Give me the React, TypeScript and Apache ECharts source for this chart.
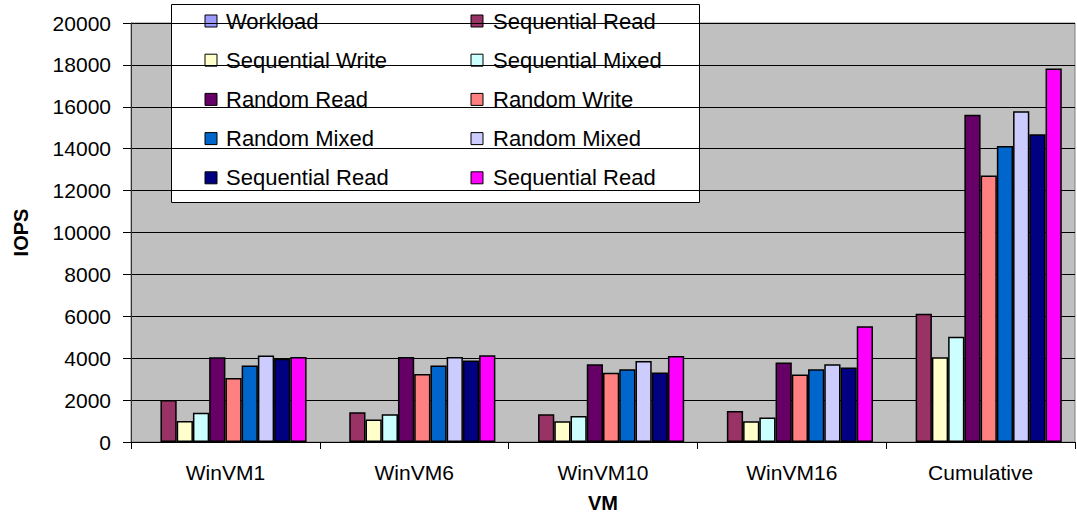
import React, { useEffect, useRef } from "react";
import * as echarts from "echarts";

const categories = ["WinVM1", "WinVM6", "WinVM10", "WinVM16", "Cumulative"];

const seriesNames = [
  "Workload",
  "Sequential Read",
  "Sequential Write",
  "Sequential Mixed",
  "Random Read",
  "Random Write",
  "Random Mixed",
  "Random Mixed",
  "Sequential Read",
  "Sequential Read",
];

const seriesColors = [
  "#9999FF",
  "#993366",
  "#FFFFCC",
  "#CCFFFF",
  "#660066",
  "#FF8080",
  "#0066CC",
  "#CCCCFF",
  "#000080",
  "#FF00FF",
];

// one array per series, values for WinVM1, WinVM6, WinVM10, WinVM16, Cumulative
const workload = [null, null, null, null, null];
const sequentialRead = [2000, 1420, 1320, 1480, 6120];
const sequentialWrite = [1000, 1070, 990, 990, 4050];
const sequentialMixed = [1400, 1320, 1240, 1170, 5020];
const randomRead = [4050, 4060, 3710, 3790, 15620];
const randomWrite = [3050, 3240, 3300, 3220, 12720];
const randomMixedA = [3650, 3650, 3470, 3470, 14130];
const randomMixedB = [4130, 4060, 3870, 3710, 15790];
const sequentialReadB = [3970, 3890, 3320, 3560, 14690];
const sequentialReadC = [4060, 4140, 4110, 5530, 17830];

const seriesValues = [
  workload,
  sequentialRead,
  sequentialWrite,
  sequentialMixed,
  randomRead,
  randomWrite,
  randomMixedA,
  randomMixedB,
  sequentialReadB,
  sequentialReadC,
];

const yTicks = { min: 0, max: 20000, interval: 2000 };

const FONT = "'Liberation Sans', Arial, sans-serif";

export default function App() {
  const ref = useRef<HTMLDivElement>(null);

  useEffect(() => {
    if (!ref.current) return;
    const chart = echarts.init(ref.current, undefined, { renderer: "svg" });

    // boxed two-column legend drawn as graphics (names repeat, so the
    // built-in legend would merge them)
    const legendItems: any[] = [];
    seriesNames.forEach((name, i) => {
      const col = i % 2;
      const row = Math.floor(i / 2);
      const cy = 21 + row * 39.2;
      const mx = col === 0 ? 205 : 471;
      const tx = col === 0 ? 226 : 493;
      legendItems.push({
        type: "rect",
        shape: { x: mx, y: cy - 6, width: 12, height: 12 },
        style: { fill: seriesColors[i], stroke: "#000", lineWidth: 1 },
      });
      legendItems.push({
        type: "text",
        x: tx,
        y: cy,
        style: {
          text: name,
          fill: "#000",
          font: `22px ${FONT}`,
          verticalAlign: "middle",
          align: "left",
        },
      });
    });

    chart.setOption({
      animation: false,
      backgroundColor: "#fff",
      textStyle: { fontFamily: FONT },
      grid: {
        left: 131,
        right: 2,
        top: 23,
        bottom: 73,
        outerBoundsMode: "none",
        containLabel: false,
        show: true,
        backgroundColor: "#C0C0C0",
        borderColor: "#808080",
        borderWidth: 1,
      },
      xAxis: {
        type: "category",
        data: categories,
        name: "VM",
        nameLocation: "middle",
        nameGap: 51,
        nameTextStyle: { fontSize: 20, fontWeight: "bold", color: "#000", fontFamily: FONT },
        axisLine: { lineStyle: { color: "#000", width: 1 } },
        axisTick: { show: true, length: 7, lineStyle: { color: "#000" } },
        axisLabel: { fontSize: 21, color: "#000", margin: 20, fontFamily: FONT },
      },
      yAxis: {
        type: "value",
        min: yTicks.min,
        max: yTicks.max,
        interval: yTicks.interval,
        name: "IOPS",
        nameLocation: "middle",
        nameRotate: 90,
        nameGap: 100,
        nameTextStyle: { fontSize: 20, fontWeight: "bold", color: "#000", fontFamily: FONT },
        axisLine: { show: true, lineStyle: { color: "#333", width: 1 } },
        axisTick: { show: true, length: 8, lineStyle: { color: "#000" } },
        axisLabel: {
          fontSize: 21,
          color: "#000",
          margin: 20,
          fontFamily: FONT,
          formatter: (v: number) => String(v),
        },
        splitLine: { show: true, lineStyle: { color: "#000", width: 1 } },
      },
      series: seriesValues.map((values, i) => ({
        type: "bar",
        name: seriesNames[i],
        data: values,
        barGap: "0%",
        barCategoryGap: "14%",
        itemStyle: { color: seriesColors[i], borderColor: "#000", borderWidth: 1.5 },
      })),
      graphic: [
        {
          type: "group",
          z: 100,
          children: [
            {
              type: "rect",
              shape: { x: 171.5, y: 4.5, width: 528, height: 198 },
              style: { fill: "#fff", stroke: "#000", lineWidth: 1 },
            },
            ...legendItems,
          ],
        },
      ],
    });

    return () => chart.dispose();
  }, []);

  return (
    <div
      ref={ref}
      style={{ position: "fixed", left: 0, top: 0, width: 1077, height: 515, background: "#fff" }}
    />
  );
}
